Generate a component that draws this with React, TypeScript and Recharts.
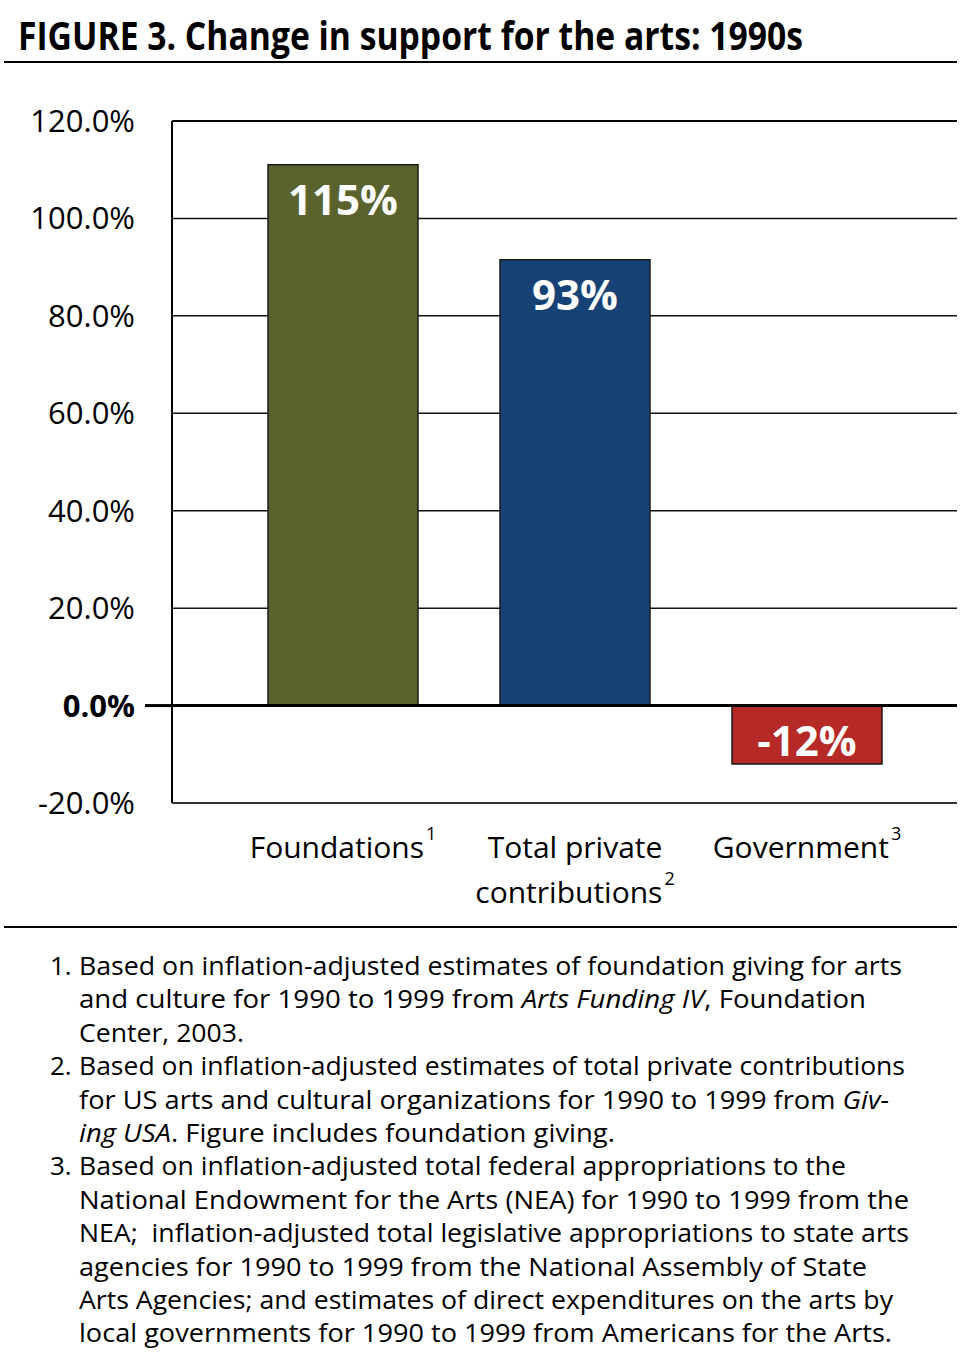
import React from "react";
import {
  Bar,
  BarChart,
  CartesianGrid,
  Cell,
  LabelList,
  ReferenceLine,
  XAxis,
  YAxis,
} from "recharts";

document.body.style.margin = "0";

const FONT = "'Open Sans', 'Noto Sans', sans-serif";

// Categorias e valores
const CATEGORIAS = ["Foundations", "Total private contributions", "Government"];
const LINHAS_CATEGORIA = [["Foundations"], ["Total private", "contributions"], ["Government"]];
const NOTAS = ["1", "2", "3"];
const VALORES = [111, 91.5, -12];
const ROTULOS = ["115%", "93%", "-12%"];
const CORES = ["#5a632d", "#174275", "#b52a27"];
const TICKS_Y = [-20, 0, 20, 40, 60, 80, 100, 120];

const dados = CATEGORIAS.map((nome, i) => ({
  nome,
  valor: VALORES[i],
  rotulo: ROTULOS[i],
}));

// Notas de rodapé: [número, linhas (com trechos em itálico), largura da linha]
type Trecho = { t: string; i?: boolean };
const RODAPE: { n?: string; partes: Trecho[]; w: number }[] = [
  { n: "1.", partes: [{ t: "Based on inflation-adjusted estimates of foundation giving for arts" }], w: 823 },
  { partes: [{ t: "and culture for 1990 to 1999 from " }, { t: "Arts Funding IV", i: true }, { t: ", Foundation" }], w: 787 },
  { partes: [{ t: "Center, 2003." }], w: 165 },
  { n: "2.", partes: [{ t: "Based on inflation-adjusted estimates of total private contributions" }], w: 826 },
  { partes: [{ t: "for US arts and cultural organizations for 1990 to 1999 from " }, { t: "Giv-", i: true }], w: 810 },
  { partes: [{ t: "ing USA", i: true }, { t: ". Figure includes foundation giving." }], w: 536 },
  { n: "3.", partes: [{ t: "Based on inflation-adjusted total federal appropriations to the" }], w: 767 },
  { partes: [{ t: "National Endowment for the Arts (NEA) for 1990 to 1999 from the" }], w: 830 },
  { partes: [{ t: "NEA;  inflation-adjusted total legislative appropriations to state arts" }], w: 830 },
  { partes: [{ t: "agencies for 1990 to 1999 from the National Assembly of State" }], w: 788 },
  { partes: [{ t: "Arts Agencies; and estimates of direct expenditures on the arts by" }], w: 814 },
  { partes: [{ t: "local governments for 1990 to 1999 from Americans for the Arts." }], w: 813 },
];

function TickY(props: any) {
  const { x, y, payload } = props;
  const zero = payload.value === 0;
  return (
    <g>
      {zero && <line x1={x + 10} x2={x + 37} y1={y} y2={y} stroke="#000" strokeWidth={3} />}
      <text
        x={x}
        y={y + 11}
        textAnchor="end"
        fontFamily={FONT}
        fontSize={31}
        fontWeight={zero ? 700 : 400}
        fill="#000"
      >
        {payload.value.toFixed(1)}%
      </text>
    </g>
  );
}

function TickX(props: any) {
  const { x, y, index } = props;
  const linhas = LINHAS_CATEGORIA[index] ?? [];
  return (
    <text textAnchor="middle" fontFamily={FONT} fontSize={30} fill="#000">
      {linhas.map((l, k) => (
        <tspan key={k} x={x} y={y + 55 + k * 45}>
          {l}
        </tspan>
      ))}
      <tspan dy={-18} dx={2} fontSize={18}>
        {NOTAS[index]}
      </tspan>
    </text>
  );
}

function RotuloBarra(props: any) {
  const { x, y, width, height, value } = props;
  const topo = Math.min(y, y + height);
  return (
    <text
      x={x + width / 2}
      y={topo + 50}
      textAnchor="middle"
      fontFamily={FONT}
      fontSize={42}
      fontWeight={700}
      fill="#fff"
    >
      {value}
    </text>
  );
}

export default function App() {
  return (
    <div style={{ position: "relative", width: 960, height: 1356, background: "#fff" }}>
      <BarChart
        width={960}
        height={927}
        data={dados}
        margin={{ top: 121, right: 3, left: 0, bottom: 24 }}
        style={{ position: "absolute", top: 0, left: 0 }}
      >
        <CartesianGrid vertical={false} stroke="#111" strokeWidth={1.5} />
        <XAxis
          dataKey="nome"
          height={100}
          padding={{ left: 55, right: 34 }}
          axisLine={{ stroke: "#333", strokeWidth: 2 }}
          tickLine={false}
          tickSize={0}
          tickMargin={0}
          interval={0}
          tick={<TickX />}
        />
        <YAxis
          width={172}
          domain={[-20, 120]}
          ticks={TICKS_Y}
          interval={0}
          axisLine={{ stroke: "#000", strokeWidth: 2 }}
          tickLine={false}
          tickSize={0}
          tickMargin={37}
          tick={<TickY />}
        />
        <Bar
          dataKey="valor"
          barSize={150}
          stroke="#1a1a1a"
          strokeWidth={1.5}
          isAnimationActive={false}
        >
          {dados.map((d, i) => (
            <Cell key={d.nome} fill={CORES[i]} />
          ))}
          <LabelList dataKey="rotulo" content={<RotuloBarra />} />
        </Bar>
        <ReferenceLine y={0} stroke="#000" strokeWidth={3} />
        <ReferenceLine y={120} stroke="#000" strokeWidth={2} />
      </BarChart>

      <svg
        width={960}
        height={1356}
        style={{ position: "absolute", top: 0, left: 0, pointerEvents: "none" }}
      >
        <text
          x={18}
          y={50}
          fontFamily={FONT}
          fontSize={39}
          fontWeight={700}
          textLength={785}
          lengthAdjust="spacingAndGlyphs"
          fill="#000"
        >
          FIGURE 3. Change in support for the arts: 1990s
        </text>
        <line x1={4} x2={957} y1={62} y2={62} stroke="#000" strokeWidth={2} />
        <line x1={4} x2={957} y1={927} y2={927} stroke="#000" strokeWidth={2} />
        {RODAPE.map((linha, k) => {
          const y = 975 + k * 33.4;
          return (
            <g key={k}>
              {linha.n && (
                <text x={50} y={y} fontFamily={FONT} fontSize={26} fill="#000">
                  {linha.n}
                </text>
              )}
              <text
                x={79}
                y={y}
                fontFamily={FONT}
                fontSize={26}
                fill="#000"
                textLength={linha.w}
                lengthAdjust="spacingAndGlyphs"
                style={{ whiteSpace: "pre" }}
              >
                {linha.partes.map((p, j) => (
                  <tspan key={j} fontStyle={p.i ? "italic" : "normal"}>
                    {p.t}
                  </tspan>
                ))}
              </text>
            </g>
          );
        })}
      </svg>
    </div>
  );
}
